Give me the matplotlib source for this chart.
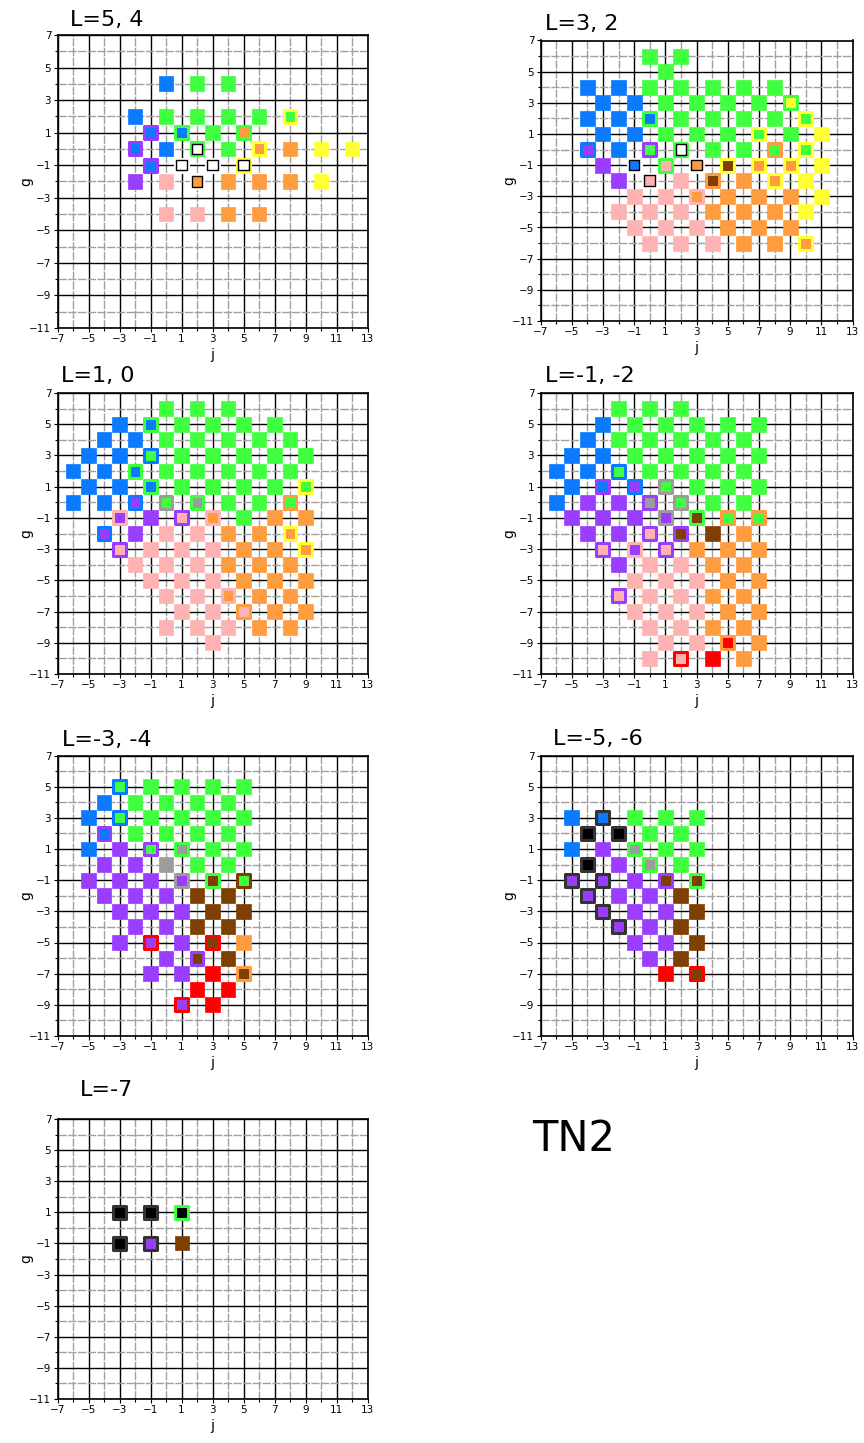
import numpy as np
import matplotlib.pyplot as plt

W, H = 864, 1443

colors = {
    "B": "#0a7bff",  # blue
    "G": "#3fff3f",  # green
    "P": "#9b3dff",  # purple
    "K": "#ffb2b2",  # pink
    "O": "#ff9c3f",  # orange
    "Y": "#ffff33",  # yellow
    "W": "#ffffff",  # white
    "A": "#9c9c9c",  # gray
    "N": "#7f3f00",  # brown
    "R": "#ff0000",  # red
    "X": "#000000",  # black
    "D": "#333333",  # dark gray
}

# each row: (g, first j, cells on every second j); a cell is "fill" or "fill/edge"
rows_L54 = [
    (4, 0, "B G G"),
    (2, -2, "B G G G G G/Y"),
    (1, -1, "B/P B/G G O/G"),
    (0, -2, "B/P B W/G G O/Y O Y Y"),
    (-1, -1, "B/P W/W W/W W/Y"),
    (-2, -2, "P K O/W O O O Y"),
    (-4, 0, "K K O O"),
]

rows_L32 = [
    (6, 0, "G G"),
    (5, 1, "G"),
    (4, -4, "B B G G G G G"),
    (3, -3, "B B G G G G Y/G"),
    (2, -4, "B B B/G G G G G G/Y"),
    (1, -3, "B B G G G G/Y G Y"),
    (0, -4, "P/B B G/P W/G G G G/O G/Y"),
    (-1, -3, "P B/W K/G O/W N/Y O/Y O/Y Y"),
    (-2, -2, "P K/W K N/O O O/Y Y"),
    (-3, -1, "K K O/K O O O Y"),
    (-4, -2, "K K K O O O Y"),
    (-5, -1, "K K K O O O"),
    (-6, 0, "K K K O O O/Y"),
]

rows_L10 = [
    (6, 0, "G G G"),
    (5, -3, "B B/G G G G G"),
    (4, -4, "B B G G G G G"),
    (3, -5, "B B G/B G G G G G"),
    (2, -6, "B B B/G G G G G G"),
    (1, -5, "B B B/G G G G G G/Y"),
    (0, -6, "B B P/B G/A A/G G G G/O"),
    (-1, -3, "P/K P K/P O/K G O O"),
    (-2, -4, "P/B P K K O O O/Y"),
    (-3, -3, "K/P K K K O O O/Y"),
    (-4, -2, "K K K O O O"),
    (-5, -1, "K K K O O O"),
    (-6, 0, "K K O/K O O"),
    (-7, 1, "K K K/O O O"),
    (-8, 0, "K K K O O"),
    (-9, 3, "K"),
]

rows_Lm1m2 = [
    (6, -2, "G G G"),
    (5, -3, "B G G G G G"),
    (4, -4, "B G G G G G"),
    (3, -5, "B B G G G G G"),
    (2, -6, "B B G/B G G G G"),
    (1, -5, "B B/P P/B G/A G G G"),
    (0, -6, "B P P A/P G/A G G"),
    (-1, -5, "P P P P/A N/G G/O G/O"),
    (-2, -4, "P P K/P N/P N O"),
    (-3, -3, "K/P P/K K/P O O O"),
    (-4, -2, "P K K O O"),
    (-5, -1, "K K K O O"),
    (-6, -2, "K/P K K O O"),
    (-7, -1, "K K K O O"),
    (-8, 0, "K K O O"),
    (-9, 1, "K K R/O O"),
    (-10, 0, "K K/R R O"),
]

rows_Lm3m4 = [
    (5, -3, "G/B G G G G"),
    (4, -4, "B G G G G"),
    (3, -5, "B G/B G G G G"),
    (2, -4, "B/P G G G G"),
    (1, -5, "B P G/P A/G G G"),
    (0, -4, "P P A G G"),
    (-1, -5, "P P P P/A N/G G/N"),
    (-2, -4, "P P P N N"),
    (-3, -3, "P P P N N"),
    (-4, -2, "P P N N"),
    (-5, -3, "P P/R P N/R O"),
    (-6, 0, "P N/P N"),
    (-7, -1, "P P R N/O"),
    (-8, 2, "R R"),
    (-9, 1, "P/R R"),
]

rows_Lm5m6 = [
    (3, -5, "B B/D G G G"),
    (2, -4, "X/D X/D G G"),
    (1, -5, "B P A/G G G"),
    (0, -4, "X/D P A/G G"),
    (-1, -5, "P/D P/D P N/P N/G"),
    (-2, -4, "P/D P P N"),
    (-3, -3, "P/D P P N"),
    (-4, -2, "P/D P N"),
    (-5, -1, "P P N"),
    (-6, 0, "P N"),
    (-7, 1, "R N/R"),
]

rows_Lm7 = [
    (1, -3, "X/D X/D X/G"),
    (-1, -3, "X/D P/D N"),
]

# title, rows, axes box in pixels (left, top, right, bottom), title anchor
panels = [
    ("L=5, 4", rows_L54, (57.5, 35, 367.5, 328), (70, 20)),
    ("L=3, 2", rows_L32, (540.5, 40.5, 852.5, 321), (545, 24)),
    ("L=1, 0", rows_L10, (57.5, 393, 367.5, 674), (61, 376)),
    ("L=-1, -2", rows_Lm1m2, (540.5, 393, 852.5, 674), (545, 376)),
    ("L=-3, -4", rows_Lm3m4, (57.5, 755.5, 367.5, 1036), (62, 740)),
    ("L=-5, -6", rows_Lm5m6, (540.5, 755.5, 852.5, 1036), (553, 739)),
    ("L=-7", rows_Lm7, (57.5, 1119, 367.5, 1399), (80, 1090)),
]


def cells(rows):
    out = []
    for g, j0, codes in rows:
        for k, code in enumerate(codes.split()):
            fill, _, edge = code.partition("/")
            out.append((j0 + 2 * k, g, fill, edge))
    return out


fig = plt.figure(figsize=(W / 100, H / 100), dpi=100)

for title, rows, (x0, y0, x1, y1), (tx, ty) in panels:
    ax = fig.add_axes([x0 / W, 1 - y1 / H, (x1 - x0) / W, (y1 - y0) / H])
    ax.set_xlim(-7, 13)
    ax.set_ylim(-11, 7)
    ax.set_xticks(np.arange(-7, 14, 2))
    ax.set_xticks(np.arange(-6, 13, 2), minor=True)
    ax.set_yticks(np.arange(-11, 8, 2))
    ax.set_yticks(np.arange(-10, 7, 2), minor=True)
    ax.set_axisbelow(True)
    ax.grid(which="major", color="black", lw=1.0)
    ax.grid(which="minor", color="#a0a0a0", lw=1.0, ls=(0, (6, 1)))
    ax.tick_params(which="both", direction="out", labelsize=7.5, pad=1.5,
                   width=0.8, top=False, right=False)
    ax.tick_params(which="major", length=3)
    ax.tick_params(which="minor", length=2)
    for sp in ax.spines.values():
        sp.set_linewidth(1.2)
        sp.set_color("black")
    ax.set_xlabel("j", fontsize=10, labelpad=3)
    ax.set_ylabel("g", fontsize=10, labelpad=-3)

    pts = cells(rows)
    plain = [p for p in pts if not p[3]]
    framed = [p for p in pts if p[3]]
    if plain:
        ax.scatter([p[0] for p in plain], [p[1] for p in plain], marker="s",
                   s=10.7 ** 2, c=[colors[p[2]] for p in plain],
                   edgecolors=[colors[p[2]] for p in plain], linewidths=0.5,
                   zorder=3)
    if framed:
        ax.scatter([p[0] for p in framed], [p[1] for p in framed], marker="s",
                   s=9.3 ** 2, c=[colors[p[2]] for p in framed],
                   edgecolors=[colors[p[3]] for p in framed], linewidths=2.2,
                   zorder=3)
        # white cells get a thin black outline round the inner square
        ringed = [p for p in framed if "W" in (p[2], p[3])]
        if ringed:
            ax.scatter([p[0] for p in ringed], [p[1] for p in ringed],
                       marker="s", s=7.6 ** 2, facecolors="none",
                       edgecolors="black", linewidths=1.0, zorder=4)

    fig.text(tx / W, 1 - ty / H, title, fontsize=16, ha="left", va="center")

fig.text(532 / W, 1 - 1139 / H, "TN2", fontsize=30, ha="left", va="center")

fig.savefig("out.png", dpi=100)
